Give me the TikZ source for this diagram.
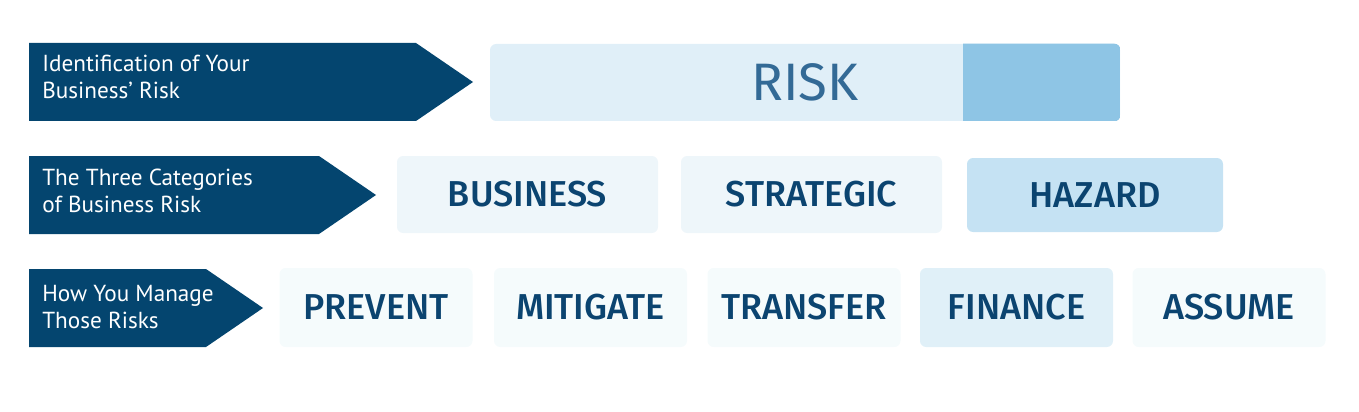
\documentclass[tikz,border=0pt]{standalone}
\usepackage{fontspec}
\setmainfont{PT Sans}
\newfontfamily\boxfont{Fira Sans}[UprightFont=* Medium, BoldFont=* SemiBold]
\newfontfamily\riskfont{Fira Sans}
\usepackage{tikz}
\usetikzlibrary{calc}

\definecolor{navy}{HTML}{04456F}
\definecolor{boxtext}{HTML}{0B4470}
\definecolor{risktext}{HTML}{336A96}
\definecolor{risklight}{HTML}{E0EFF8}
\definecolor{riskdark}{HTML}{8EC5E5}
\definecolor{catpale}{HTML}{EEF6FA}
\definecolor{catblue}{HTML}{C5E2F3}
\definecolor{waypale}{HTML}{F5FBFC}
\definecolor{wayblue}{HTML}{E0F0F8}

\begin{document}
\begin{tikzpicture}[x=0.02cm, y=-0.02cm,
        tag/.style={fill=navy},
        taglabel/.style={anchor=west, text=white, align=left, inner sep=0pt,
            font=\fontsize{13.2}{15.6}\selectfont},
        choice/.style={rounded corners=3.5pt, inner sep=0pt, text=boxtext,
            font=\boxfont\fontsize{20.5}{24}\selectfont}]
        \useasboundingbox (0, 0) rectangle (1359, 412);

        % row 1: identification
        \fill [tag] (29, 43) -- (416, 43) -- (473, 82) -- (416, 121) -- (29, 121) -- cycle;
        \node [taglabel] (ident) at (42, 77) {Identification of Your\\Business’ Risk};
        \node [fill=risklight, rounded corners=3.5pt, minimum width=630*0.02cm, minimum height=77*0.02cm,
            text=risktext, font=\riskfont\fontsize{30}{40}\selectfont] (risk) at (805, 82.5) {RISK};
        \begin{scope}
            \clip [rounded corners=3.5pt] (risk.south west) rectangle (risk.north east);
            \fill [riskdark] (963, 40) rectangle (risk.south east);
        \end{scope}

        % row 2: categories
        \fill [tag] (29, 156) -- (319, 156) -- (376, 195) -- (319, 234) -- (29, 234) -- cycle;
        \node [taglabel] (cats) at (42, 191) {The Three Categories\\of Business Risk};
        \node [choice, fill=catpale, minimum width=261*0.02cm, minimum height=77*0.02cm] (business) at (527.5, 194.5) {BUSINESS};
        \node [choice, fill=catpale, minimum width=261*0.02cm, minimum height=77*0.02cm] (strategic) at (811.5, 194.5) {STRATEGIC};
        \node [choice, fill=catblue, minimum width=256*0.02cm, minimum height=74*0.02cm] (hazard) at (1095, 195) {HAZARD};

        % row 3: managing
        \fill [tag] (29, 269) -- (206, 269) -- (263, 308) -- (206, 347) -- (29, 347) -- cycle;
        \node [taglabel] (manage) at (42, 307) {How You Manage\\Those Risks};
        \foreach \name/\word/\x/\shade in {prevent/PREVENT/376/waypale, mitigate/MITIGATE/590.5/waypale,
                transfer/TRANSFER/804/waypale, finance/FINANCE/1016.5/wayblue, assume/ASSUME/1229/waypale}
            \node [choice, fill=\shade, minimum width=193*0.02cm, minimum height=79*0.02cm] (\name) at (\x, 307.5) {\word};
    \end{tikzpicture}
\end{document}
